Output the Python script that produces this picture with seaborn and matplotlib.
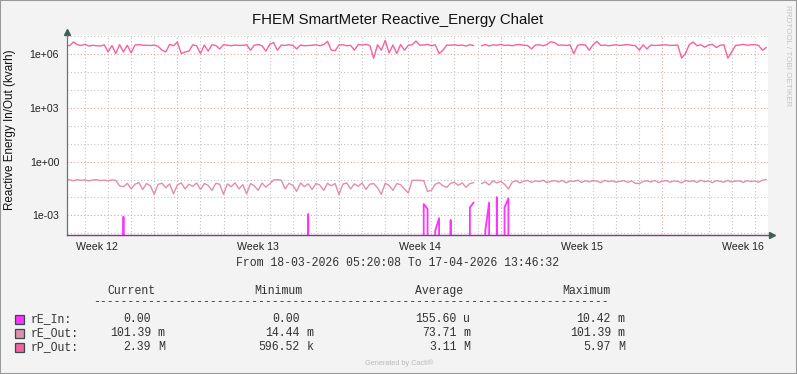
import numpy as np
import pandas as pd
import matplotlib
matplotlib.use('Agg')
import matplotlib.pyplot as plt
from matplotlib.patches import Rectangle
import seaborn as sns

NaN = np.nan

# one sample every 4 hours
t_first = '2026-03-18 04:00'
t_step = '4h'
t_from = '2026-03-18 05:20:08'
t_to = '2026-04-17 13:46:32'

# rP_Out in M
rp_out_M = [
    3.3, 3.0, 4.9, 3.4, 3.1, 3.6, 2.9, 3.2, 3.0, 2.9,
    3.4, 1.35, 3.1, 1.1, 3.5, 1.35, 3.2, 1.2, 3.3, 3.5,
    3.2, 3.2, 3.1, 3.3, 2.8, 1.7, 1.35, 3.6, 3.0, 4.9,
    1.1, 1.35, 1.5, 3.4, 3.0, 1.1, 3.3, 1.5, 3.4, 3.1,
    2.0, 3.5, 3.2, 3.0, 3.3, 3.1, 3.2, 3.4, 1.7, 3.2,
    3.5, 3.0, 1.5, 3.6, 4.5, 1.7, 3.3, 3.1, 3.4, 3.2,
    2.0, 3.3, 3.0, 3.1, 3.2, 3.4, 3.0, 3.5, 5.3, 1.7,
    1.6, 3.3, 3.4, 3.0, 3.2, 1.7, 3.5, 3.3, 3.6, 3.1,
    0.6, 3.4, 1.7, 5.97, 1.2, 3.3, 1.1, 3.5, 1.7, 3.2,
    3.4, 5.5, 3.2, 3.3, 3.6, 3.0, 3.4, 1.1, 1.7, 3.3,
    3.2, 3.4, 3.1, 3.3, 2.9, 3.4, 3.1, NaN, 3.0, 3.5,
    2.9, 3.4, 3.2, 3.6, 3.1, 3.3, 3.0, 3.4, 3.5, 3.2,
    3.1, 2.0, 3.3, 3.4, 3.0, 3.5, 5.0, 4.5, 3.2, 3.3,
    3.1, 3.4, 1.1, 3.2, 3.5, 3.3, 1.7, 3.4, 5.3, 3.1,
    3.3, 3.0, 3.2, 3.4, 3.1, 3.3, 3.5, 3.2, 3.0, 1.7,
    3.4, 2.0, 3.3, 3.1, 3.2, 3.3, 3.4, 3.1, 3.2, 3.3,
    0.62, 1.1, 3.5, 4.9, 3.0, 3.4, 2.5, 3.3, 3.6, 2.4,
    3.2, 3.4, 0.61, 1.35, 3.1, 3.3, 3.6, 3.2, 3.4, 3.5,
    3.1, 1.7, 2.39,
]

# rE_Out in m
re_out_m = [
    92, 98, 86, 100, 90, 97, 84, 95, 99, 88, 94, 85, 96, 90,
    45, 40, 62, 30, 55, 68, 28, 60, 45, 15,
    55, 62, 35, 58, 16, 50, 66, 30, 55, 42,
    65, 28, 60, 48, 25, 62, 55, 15, 58, 40,
    66, 30, 52, 16, 60, 45, 25, 64, 38, 58,
    95, 100, 92,
    30, 62, 48, 22, 65, 40, 58, 28, 60, 50,
    25, 62, 45, 60, 14.44, 55, 66, 30, 58, 42,
    65, 28, 55, 60, 35, 15, 62, 48, 25, 60,
    52, 30, 18,
    90, 92, 90,
    88, 22, 25, 55, 68, 45, 37, 62, 70, 48, 65, 37, 60, 68,
    NaN,
    60, 75, 50, 85, 65, 80, 55, 30,
    72, 88, 65, 82, 90, 70, 85, 78, 92, 68,
    80, 88, 74, 90, 66, 84, 79, 92, 70, 86,
    75, 88, 82, 68, 90, 77, 85, 72, 80, 88,
    70, 84, 62, 60, 78, 86, 74, 90, 68, 82,
    88, 72, 84, 80, 66, 90, 78, 86, 70, 92,
    76, 84, 68, 88, 80, 72, 90, 74, 82, 86,
    70, 88, 78, 84, 72, 92, 101.39,
]

# rE_In in m
re_in_m = [
    0, 0, 0, 0, 0, 0, 0, 0, 0, 0,
    0, 0, 0, 0, 0, 0.85, 0, 0, 0, 0,
    0, 0, 0, 0, 0, 0, 0, 0, 0, 0,
    0, 0, 0, 0, 0, 0, 0, 0, 0, 0,
    0, 0, 0, 0, 0, 0, 0, 0, 0, 0,
    0, 0, 0, 0, 0, 0, 0, 0, 0, 0,
    0, 0, 0, 1.2, 0, 0, 0, 0, 0, 0,
    0, 0, 0, 0, 0, 0, 0, 0, 0, 0,
    0, 0, 0, 0, 0, 0, 0, 0, 0, 0,
    0, 0, 0, 4.3, 2.3, 0, 0.14, 0.7, 0, 0,
    0.55, 0, 0, 0, 0, 2.8, 5.3, NaN, 0, 0.14,
    5.3, 0, 10.42, 0, 2.8, 9.0, 0, 0, 0, 0,
    0, 0, 0, 0, 0, 0, 0, 0, 0, 0,
    0, 0, 0, 0, 0, 0, 0, 0, 0, 0,
    0, 0, 0, 0, 0, 0, 0, 0, 0, 0,
    0, 0, 0, 0, 0, 0, 0, 0, 0, 0,
    0, 0, 0, 0, 0, 0, 0, 0, 0, 0,
    0, 0, 0, 0, 0, 0, 0, 0, 0, 0,
    0, 0, 0,
]

series_names = ['rE_In', 'rE_Out', 'rP_Out']
series_colors = ['#FF33FF', '#E38DAE', '#F7619F']
legend_cur = [('0.00', ''), ('101.39', 'm'), ('2.39', 'M')]
legend_min = [('0.00', ''), ('14.44', 'm'), ('596.52', 'k')]
legend_avg = [('155.60', 'u'), ('73.71', 'm'), ('3.11', 'M')]
legend_max = [('10.42', 'm'), ('101.39', 'm'), ('5.97', 'M')]
week_labels = ['Week 12', 'Week 13', 'Week 14', 'Week 15', 'Week 16']
week_centers = ['2026-03-19 12:00', '2026-03-26 12:00', '2026-04-02 12:00',
                '2026-04-09 12:00', '2026-04-16 12:00']
y_labels = ['1e-03', '1e+00', '1e+03', '1e+06']
y_label_vals = [1e-3, 1e0, 1e3, 1e6]

W, H = 797, 374
def fx(x):
    return x / W
def fy(y):
    return 1 - y / H

sns.set_theme(style='white')
plt.rcParams['font.family'] = ['Liberation Sans', 'DejaVu Sans']

times = pd.date_range(t_first, periods=len(rp_out_M), freq=t_step)

def make_df(vals, scale):
    v = np.array(vals, dtype=float) * scale
    seg = np.cumsum(np.isnan(v))
    df = pd.DataFrame({'time': times, 'value': v, 'seg': seg})
    return df.dropna()

fig = plt.figure(figsize=(W / 100, H / 100), dpi=100)
fig.patch.set_facecolor('#F3F3F3')
ax = fig.add_axes([fx(67), fy(235), 701 / W, 200 / H])
ax.set_facecolor('white')
ax.set_yscale('log')

ymin = 10 ** (6 - (235 - 54.3) / 17.9)
ymax = 10 ** (6 + (54.3 - 35) / 17.9)
ax.set_ylim(ymin, ymax)
x0, x1 = pd.Timestamp(t_from), pd.Timestamp(t_to)
ax.set_xlim(x0, x1)

# grid: days grey, mondays red; decades grey, every 3rd decade red
for d in pd.date_range(x0.normalize() + pd.Timedelta('1D'), x1, freq='D'):
    c = '#E8A0A0' if d.weekday() == 0 else '#C4C4C4'
    ax.axvline(d, color=c, lw=0.8, ls=(0, (1, 2)), zorder=1)
for e in range(-4, 8):
    c = '#E8A0A0' if e % 3 == 0 else '#C4C4C4'
    ax.axhline(10.0 ** e, color=c, lw=0.8, ls=(0, (1, 2)), zorder=1)

for vals, scale, col, lw in zip([re_in_m, re_out_m, rp_out_M], [1e-3, 1e-3, 1e6],
                                series_colors, [1.3, 1.0, 1.0]):
    df = make_df(vals, scale)
    sns.lineplot(data=df, x='time', y='value', units='seg', estimator=None,
                 color=col, lw=lw, ax=ax, zorder=3, legend=False)

ax.set_xlabel('')
ax.set_ylabel('')
ax.set_yticks(y_label_vals)
ax.set_yticklabels(y_labels)
ax.yaxis.set_minor_locator(matplotlib.ticker.NullLocator())
ax.set_xticks(pd.to_datetime(week_centers))
ax.set_xticklabels(week_labels)
ax.tick_params(axis='x', length=0, pad=5, labelsize=7.7, colors='#222222')
ax.tick_params(axis='y', length=1.5, pad=4.2, labelsize=7.6, colors='#222222')
ax.tick_params(axis='y', color='#888888')

for s in ['top', 'right']:
    ax.spines[s].set_visible(False)
ax.spines['left'].set_color('#5E7A72')
ax.spines['left'].set_linewidth(0.9)
ax.spines['bottom'].set_color('#7A3C86')
ax.spines['bottom'].set_linewidth(1.0)
ax.spines['left'].set_zorder(5)
ax.spines['bottom'].set_zorder(5)
ax.plot([0], [1 + 3.5 / 200], marker='^', ms=4.5, color='#3E5E56',
        transform=ax.transAxes, clip_on=False)
ax.plot([1 + 4 / 701], [0], marker='>', ms=4.5, color='#3E5E56',
        transform=ax.transAxes, clip_on=False)

fig.text(fx(398), fy(20), 'FHEM SmartMeter Reactive_Energy Chalet',
         ha='center', va='center', fontsize=10.8, color='#111111')
fig.text(fx(10), fy(130), 'Reactive Energy In/Out (kvarh)', rotation=90,
         ha='center', va='center', fontsize=8.4, color='#111111')
fig.text(fx(788), fy(56), 'RRDTOOL / TOBI OETIKER', rotation=270,
         ha='center', va='center', fontsize=5.8, color='#C4C4C4')

mono = ['Liberation Mono', 'DejaVu Sans Mono']
fs = 8.3
tc = '#333333'
fig.text(fx(398), fy(263), 'From 18-03-2026 05:20:08 To 17-04-2026 13:46:32',
         ha='center', va='center', fontsize=fs, family=mono, color=tc)
for name, xc in zip(['Current', 'Minimum', 'Average', 'Maximum'], [131, 278.5, 439, 586]):
    fig.text(fx(xc), fy(291), name, ha='center', va='center', fontsize=fs,
             family=mono, color=tc)
fig.text(fx(93), fy(302.5), '-' * 75, ha='left', va='center', fontsize=fs,
         family=mono, color=tc)

row_y = [319, 333, 347.3]
col_edges = [151, 299.5, 456.5, 611]
for k, name in enumerate(series_names):
    y = row_y[k]
    fig.add_artist(Rectangle((fx(15), fy(y + 4.5)), 9 / W, 9 / H,
                             transform=fig.transFigure, facecolor=series_colors[k],
                             edgecolor='#2F4F4F', lw=0.9))
    fig.text(fx(31), fy(y), name + ':', ha='left', va='center', fontsize=fs,
             family=mono, color=tc)
    for edge, col in zip(col_edges, [legend_cur, legend_min, legend_avg, legend_max]):
        num, unit = col[k]
        fig.text(fx(edge), fy(y), num, ha='right', va='center', fontsize=fs,
                 family=mono, color=tc)
        if unit:
            fig.text(fx(edge + 6.9), fy(y), unit, ha='left', va='center',
                     fontsize=fs, family=mono, color=tc)

fig.text(fx(399), fy(363), 'Generated by Cacti®', ha='center', va='center',
         fontsize=5.3, color='#BBBBBB')
fig.add_artist(Rectangle((0, 0), 1, 1, transform=fig.transFigure, fill=False,
                         edgecolor='#9A9A9A', lw=1.5))

fig.savefig('out.png', dpi=100, facecolor=fig.get_facecolor())
